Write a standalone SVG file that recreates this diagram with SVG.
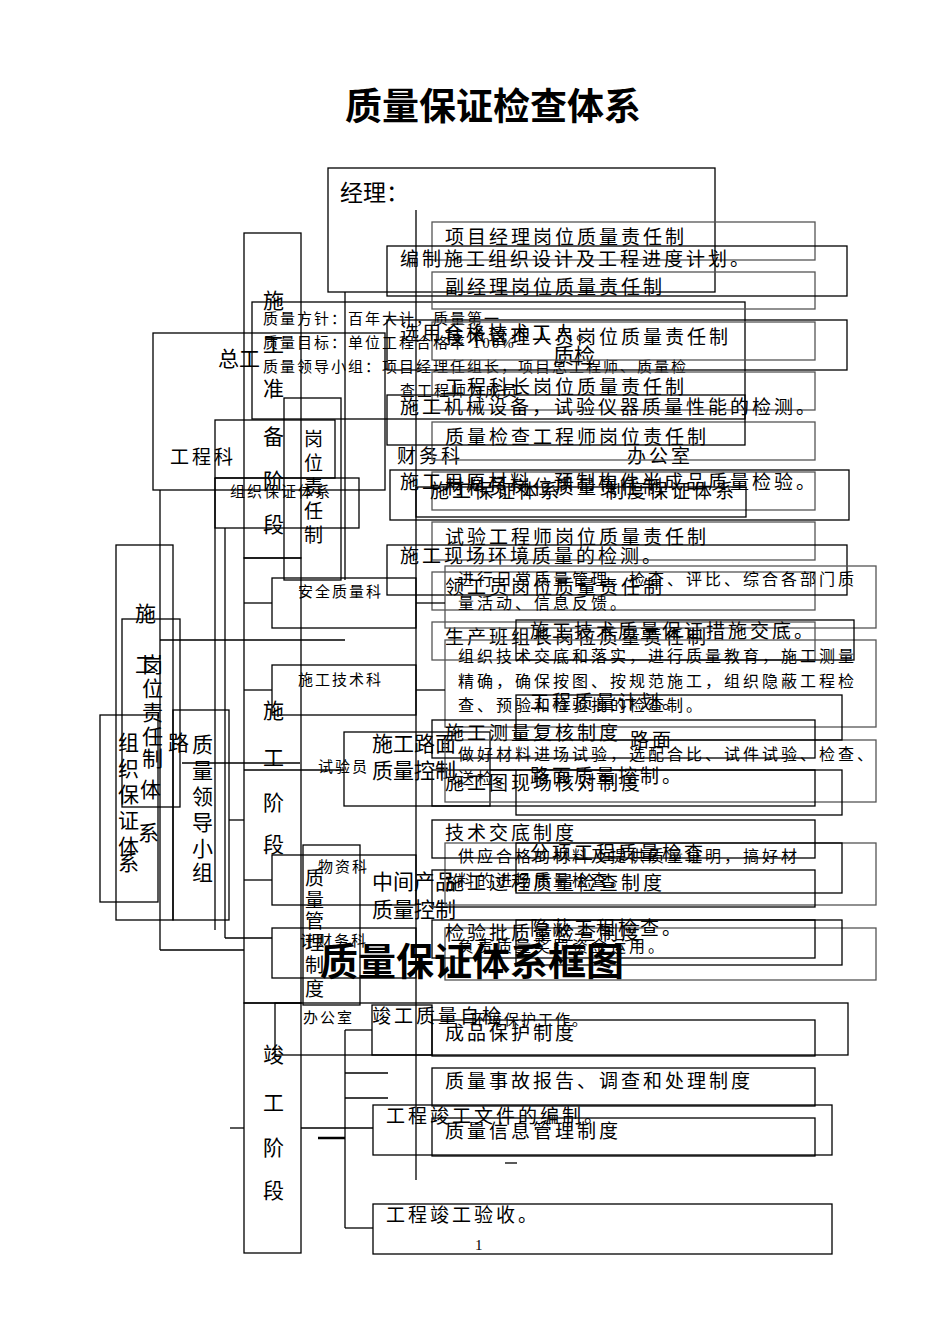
<svg xmlns="http://www.w3.org/2000/svg" width="950" height="1344" viewBox="0 0 950 1344">
<style>
rect{fill:none;stroke:#000;stroke-width:1.3}
.g rect,.g line{stroke:#555}
line,path{stroke:#000;stroke-width:1.3;fill:none}
text{font-family:"Liberation Serif","Noto Sans CJK SC",serif;fill:#000}
.s{font-size:15px;letter-spacing:2px}.m{font-size:19px;letter-spacing:3px}.l{font-size:21px}
.p{font-size:16px;letter-spacing:3px}
.t{font-size:37px;font-weight:bold}
</style>
<rect x="0" y="0" width="950" height="1344" style="fill:#fff;stroke:none"/>
<text class="t" x="493" y="120" text-anchor="middle">质量保证检查体系</text>
<g id="n-jingli"><rect x="328" y="168" width="387" height="124"/><text x="340" y="201" style="font-size:23px">经理：</text></g>
<g id="n-zonggong"><rect x="153" y="333" width="232" height="157"/><text class="l" x="218" y="366">总工</text></g>
<g id="n-gongchengke"><rect x="215" y="420" width="120" height="58"/><text class="m" x="170" y="464">工程科</text></g>
<g id="n-zhunbei"><rect x="244" y="233" width="57" height="325"/><text class="l" x="263" y="308">施</text><text class="l" x="263" y="352">工</text><text class="l" x="263" y="396">准</text><text class="l" x="263" y="444">备</text><text class="l" x="263" y="488">阶</text><text class="l" x="263" y="532">段</text></g>
<g id="n-fangzhen"><rect x="252" y="302" width="493" height="117"/>
<text class="s" x="263" y="324">质量方针：百年大计，质量第一</text>
<text class="s" x="263" y="348">质量目标：单位工程合格率 100%</text>
<text class="s" x="263" y="372">质量领导小组：项目经理任组长，项目总工程师、质量检</text>
<text class="s" x="400" y="396">查工程师为成员</text></g>
<g id="n-gangwei1"><rect x="284" y="398" width="57" height="182"/><text class="m" x="304" y="446">岗</text><text class="m" x="304" y="470">位</text><text class="m" x="304" y="494">责</text><text class="m" x="304" y="518">任</text><text class="m" x="304" y="542">制</text></g>
<g id="n-zuzhi1"><rect x="215" y="478" width="144" height="50"/><text class="s" x="230" y="497">组织保证体系</text></g>
<g id="n-caiwu1"><text class="m" x="397" y="463">财务科</text><text class="m" x="627" y="463">办公室</text><text class="l" x="553" y="363">质检</text></g>
<g id="resp" class="g">
<rect x="432" y="222" width="383" height="38"/><text class="m" x="445" y="244">项目经理岗位质量责任制</text>
<rect x="432" y="272" width="383" height="37"/><text class="m" x="445" y="294">副经理岗位质量责任制</text>
<rect x="432" y="322" width="383" height="38"/><text class="m" x="445" y="344">技术管理人员岗位质量责任制</text>
<rect x="432" y="372" width="383" height="38"/><text class="m" x="445" y="394">工程科长岗位质量责任制</text>
<rect x="432" y="422" width="383" height="38"/><text class="m" x="445" y="444">质量检查工程师岗位责任制</text>
<rect x="432" y="472" width="383" height="38"/><text class="m" x="445" y="494">材料员岗位质量责任制</text>
<rect x="432" y="522" width="383" height="38"/><text class="m" x="445" y="544">试验工程师岗位质量责任制</text>
<rect x="432" y="572" width="383" height="38"/><text class="m" x="445" y="594">领工员岗位质量责任制</text>
<rect x="432" y="622" width="383" height="38"/><text class="m" x="445" y="644">生产班组长岗位质量责任制</text>
</g>
<g id="prep">
<rect x="387" y="246" width="460" height="50"/><text class="m" x="400" y="266">编制施工组织设计及工程进度计划。</text>
<rect x="387" y="320" width="460" height="50"/><text class="m" x="400" y="340">选用合格技术工人。</text>
<rect x="387" y="395" width="358" height="50"/><text class="m" x="400" y="414">施工机械设备，试验仪器质量性能的检测。</text>
<rect x="390" y="470" width="459" height="50"/><text class="m" x="400" y="489">施工用原材料、预制构件半成品质量检验。</text>
<rect x="387" y="545" width="460" height="50"/><text class="m" x="400" y="563">施工现场环境质量的检测。</text>
<rect x="416" y="487" width="330" height="30"/><text class="m" x="430" y="498">施工保证体系</text><text class="m" x="605" y="498">制度保证体系</text>
</g>
<g id="left1">
<rect x="116" y="545" width="57" height="375"/><text class="l" x="135" y="621">施</text><text class="l" x="135" y="672">工</text>
<rect x="122" y="619" width="58" height="188"/><text class="l" x="142" y="672">岗</text><text class="l" x="142" y="696">位</text><text class="l" x="142" y="720">责</text><text class="l" x="142" y="744">任</text><text class="l" x="142" y="766">制</text><text class="l" x="140" y="797">体</text><text class="l" x="138" y="840">系</text>
<rect x="100" y="715" width="58" height="187"/><text class="l" x="118" y="750">组</text><text class="l" x="118" y="776">织</text><text class="l" x="118" y="802">保</text><text class="l" x="118" y="828">证</text><text class="l" x="118" y="854">体</text><text class="l" x="118" y="870">系</text>
<rect x="173" y="710" width="56" height="210"/><text class="l" x="192" y="752">质</text><text class="l" x="192" y="778">量</text><text class="l" x="192" y="804">领</text><text class="l" x="192" y="830">导</text><text class="l" x="192" y="856">小</text><text class="l" x="192" y="880">组</text>
<text class="l" x="168" y="750">路</text>
</g>
<g id="shigong"><rect x="244" y="558" width="57" height="445"/><text class="l" x="263" y="718">施</text><text class="l" x="263" y="765">工</text><text class="l" x="263" y="810">阶</text><text class="l" x="263" y="852">段</text></g>
<g id="depts">
<rect x="272" y="578" width="144" height="50"/><text class="s" x="298" y="597">安全质量科</text>
<rect x="272" y="665" width="144" height="50"/><text class="s" x="298" y="685">施工技术科</text>
<rect x="344" y="732" width="146" height="74"/><text class="s" x="318" y="772">试验员</text><text class="l" x="372" y="751">施工路面</text><text class="l" x="372" y="778">质量控制</text>
<rect x="272" y="855" width="144" height="50"/><text class="s" x="318" y="872">物资科</text>
<rect x="303" y="845" width="57" height="160"/><text class="m" x="305" y="885">质</text><text class="m" x="305" y="907">量</text><text class="m" x="305" y="928">管</text><text class="m" x="305" y="950">理</text><text class="m" x="305" y="972">制</text><text class="m" x="305" y="996">度</text>
<text class="l" x="372" y="889">中间产品</text><text class="l" x="372" y="917">质量控制</text>
<rect x="272" y="928" width="144" height="50"/><text class="s" x="300" y="946">计财务科</text>
</g>
<g id="long" class="g">
<rect x="445" y="566" width="431" height="62"/><text class="p" x="458" y="585">进行日常质量管理、检查、评比、综合各部门质</text><text class="p" x="458" y="609">量活动、信息反馈。</text>
<rect x="445" y="640" width="431" height="87"/><text class="p" x="458" y="662">组织技术交底和落实，进行质量教育，施工测量</text><text class="p" x="458" y="687">精确，确保按图、按规范施工，组织隐蔽工程检</text><text class="p" x="458" y="711">查、预验和检验批的检查制。</text>
<rect x="445" y="740" width="431" height="62"/><text class="p" x="458" y="760">做好材料进场试验，选配合比、试件试验、检查、</text><text class="p" x="458" y="784">送检。</text>
<rect x="445" y="843" width="431" height="62"/><text class="p" x="458" y="862">供应合格的材料及提供质量证明，搞好材</text><text class="p" x="458" y="886">料的进场质量检查。</text>
<rect x="445" y="928" width="431" height="52"/><text class="p" x="458" y="952">负责质量奖罚资金运用。</text>
</g>
<g id="qc">
<rect x="516" y="620" width="338" height="40"/><text class="m" x="530" y="638">施工技术质量保证措施交底。</text>
<rect x="516" y="695" width="326" height="45"/><text class="m" x="530" y="709">工程质量计划。</text>
<rect x="516" y="770" width="326" height="45"/><text class="m" x="530" y="783">路面质量控制。</text><text class="m" x="630" y="747">路面</text>
<rect x="516" y="843" width="326" height="50"/><text class="m" x="530" y="860">分项工程质量检查</text>
<rect x="516" y="920" width="326" height="45"/><text class="m" x="530" y="935">隐蔽工程检查。</text>
</g>
<g id="zhidu">
<rect x="432" y="720" width="383" height="38"/><text class="m" x="445" y="740">施工测量复核制度</text>
<rect x="432" y="770" width="383" height="36"/><text class="m" x="445" y="790">施工图现场核对制度</text>
<rect x="432" y="820" width="383" height="38"/><text class="m" x="445" y="840">技术交底制度</text>
<rect x="432" y="870" width="383" height="37"/><text class="m" x="445" y="890">施工过程质量检查制度</text>
<rect x="432" y="920" width="383" height="38"/><text class="m" x="445" y="940">检验批质量检查制度</text>
<rect x="432" y="1020" width="383" height="36"/><text class="m" x="445" y="1040">成品保护制度</text>
<rect x="432" y="1068" width="383" height="38"/><text class="m" x="445" y="1088">质量事故报告、调查和处理制度</text>
<rect x="432" y="1118" width="383" height="38"/><text class="m" x="445" y="1138">质量信息管理制度</text>
</g>
<text x="320" y="975" style="font-size:38px;font-weight:bold">质量保证体系框图</text>
<g id="jungong"><rect x="244" y="1003" width="57" height="250"/><text class="l" x="263" y="1062">竣</text><text class="l" x="263" y="1110">工</text><text class="l" x="263" y="1155">阶</text><text class="l" x="263" y="1198">段</text></g>
<g id="bottom">
<rect x="275" y="1003" width="573" height="52"/><text class="s" x="303" y="1023">办公室</text><text class="s" x="470" y="1025">环境保护工作。</text>
<rect x="372" y="1005" width="60" height="50"/><text class="m" x="372" y="1023">竣工质量自检</text>
<rect x="373" y="1105" width="459" height="50"/><text class="m" x="386" y="1123">工程竣工文件的编制。</text>
<rect x="373" y="1204" width="459" height="50"/><text class="m" x="386" y="1222">工程竣工验收。</text>
<text class="s" x="475" y="1250">1</text>
</g>
<g id="connectors">
<line x1="215" y1="478" x2="215" y2="930"/>
<line x1="160" y1="490" x2="160" y2="950"/><line x1="160" y1="950" x2="244" y2="950"/>
<line x1="229" y1="820" x2="244" y2="820"/>
<line x1="225" y1="528" x2="225" y2="938"/><line x1="225" y1="938" x2="272" y2="938"/>
<line x1="244" y1="603" x2="272" y2="603"/><line x1="244" y1="690" x2="272" y2="690"/><line x1="244" y1="770" x2="344" y2="770"/><line x1="244" y1="880" x2="272" y2="880"/>
<line x1="416" y1="603" x2="445" y2="603"/><line x1="416" y1="690" x2="445" y2="690"/><line x1="490" y1="770" x2="516" y2="770"/>
<line x1="345" y1="292" x2="345" y2="580"/>
<line x1="416" y1="210" x2="416" y2="1180"/>
<line x1="160" y1="640" x2="345" y2="640"/>
<line x1="182" y1="763" x2="300" y2="763"/>
<line x1="345" y1="1030" x2="345" y2="1228"/><line x1="345" y1="1030" x2="372" y2="1030"/><line x1="345" y1="1073" x2="388" y2="1073"/><line x1="345" y1="1098" x2="388" y2="1098"/><line x1="345" y1="1228" x2="373" y2="1228"/>
<line x1="301" y1="1128" x2="373" y2="1128"/><line x1="318" y1="1138" x2="345" y2="1138" style="stroke-width:2.5"/>
<line x1="505" y1="1163" x2="517" y2="1163"/>
<line x1="230" y1="1128" x2="244" y2="1128"/>
</g>
</svg>
